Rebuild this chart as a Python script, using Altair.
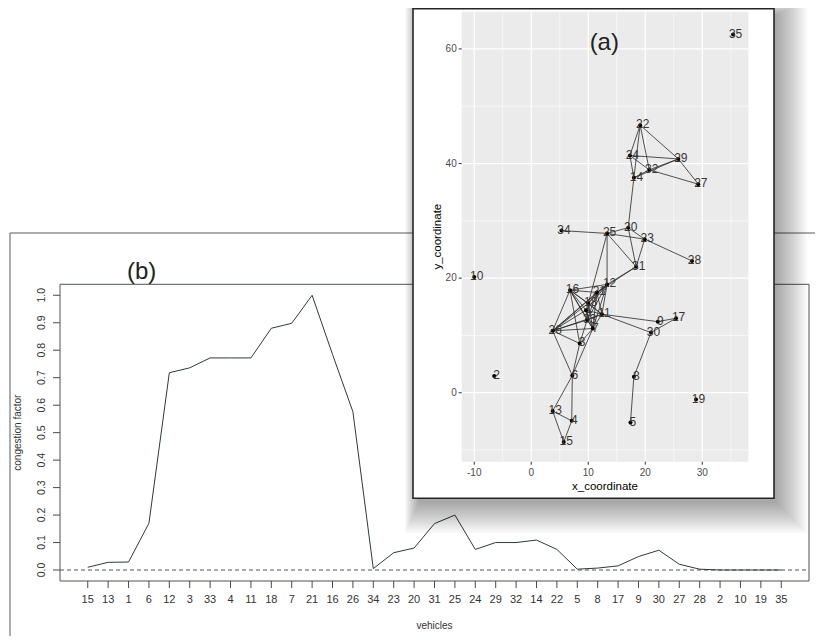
import altair as alt
import pandas as pd

# ---------------- data: panel (b) ----------------
vehicles = [15, 13, 1, 6, 12, 3, 33, 4, 11, 18, 7, 21, 16, 26, 34, 23, 20, 31, 25,
            24, 29, 32, 14, 22, 5, 8, 17, 9, 30, 27, 28, 2, 10, 19, 35]
congestion = [0.01, 0.028, 0.029, 0.17, 0.718, 0.736, 0.772, 0.772, 0.772, 0.88,
              0.898, 1.0, 0.785, 0.576, 0.005, 0.063, 0.08, 0.169, 0.2, 0.075,
              0.1, 0.1, 0.109, 0.075, 0.003, 0.007, 0.015, 0.049, 0.072, 0.021,
              0.003, 0.0, 0.0, 0.0, 0.0]
b_yticks = [0.0, 0.1, 0.2, 0.3, 0.4, 0.5, 0.6, 0.7, 0.8, 0.9, 1.0]

# ---------------- data: panel (a) ----------------
node_ids = [35, 22, 24, 29, 32, 14, 27, 20, 25, 34, 23, 28, 31, 12, 16, 21, 18, 11,
            33, 7, 1, 26, 3, 10, 2, 19, 9, 17, 30, 8, 5, 6, 13, 4, 15]
node_x = [35.4, 19.1, 17.3, 25.8, 20.7, 18.0, 29.3, 17.0, 13.3, 5.3, 19.9, 28.2, 18.4,
          13.3, 6.8, 11.5, 10.0, 12.4, 9.8, 10.8, 9.6, 3.75, 8.5, -10.0, -6.5, 28.9,
          22.2, 25.4, 21.0, 18.0, 17.4, 7.2, 3.75, 7.1, 5.7]
node_y = [62.5, 46.7, 41.4, 40.8, 38.9, 37.5, 36.4, 28.8, 27.8, 28.3, 26.8, 23.0, 22.0,
          18.9, 17.9, 17.5, 15.6, 13.7, 12.7, 11.2, 14.4, 10.8, 8.6, 20.2, 2.9, -1.2,
          12.4, 13.0, 10.5, 2.8, -5.2, 3.0, -3.2, -4.9, -8.6]
edge_from = [22, 22, 22, 22, 24, 24, 24, 32, 14, 14, 32, 29,
             14, 20, 20, 20, 25, 25, 23, 23, 34, 25, 25, 31, 31,
             16, 16, 16, 16, 16, 16, 16, 16, 16,
             26, 26, 26, 26, 26, 26, 26, 26,
             12, 12, 12, 12, 12, 12,
             21, 21, 21, 21,
             18, 18, 18, 18, 33, 33, 1, 1, 1,
             11, 11, 11, 9, 30, 30, 8,
             3, 3, 6, 6, 6, 6, 6, 13, 13, 4]
edge_to = [24, 14, 32, 29, 29, 14, 32, 29, 29, 32, 27, 27,
           20, 25, 31, 23, 23, 31, 31, 28, 25, 12, 18, 12, 21,
           12, 21, 26, 3, 7, 11, 18, 33, 1,
           12, 7, 11, 3, 18, 21, 33, 1,
           18, 33, 7, 11, 21, 1,
           18, 11, 33, 7,
           11, 33, 7, 1, 7, 11, 7, 11, 33,
           7, 9, 30, 17, 17, 8, 5,
           7, 33, 3, 7, 26, 13, 4, 4, 15, 15]
a_xmajor = [-10, 0, 10, 20, 30]
a_xminor = [-5, 5, 15, 25, 35]
a_ymajor = [0, 20, 40, 60]
a_yminor = [-10, 10, 30, 50]

# ---------------- layout ----------------
W, H = 807, 628
FONT = "Liberation Sans"
B_XDOM, B_XRNG = [-0.36, 36.36], [52, 801]
B_YDOM, B_YRNG = [-0.04, 1.04], [573, 276.3]
A_XDOM, A_XRNG = [-12.2, 38.07], [453.7, 740.3]
A_YDOM, A_YRNG = [-12.04, 66.5], [453.7, 3.7]


def sc(dom, rng):
    return alt.Scale(domain=dom, range=rng, nice=False, zero=False)


BX, BY = sc(B_XDOM, B_XRNG), sc(B_YDOM, B_YRNG)
AX, AY = sc(A_XDOM, A_XRNG), sc(A_YDOM, A_YRNG)


def qx(f, s):
    return alt.X(f, type="quantitative", scale=s, axis=None)


def qy(f, s):
    return alt.Y(f, type="quantitative", scale=s, axis=None)


one = pd.DataFrame({"x0": [0]})
layers = []

# ---------------- panel (b) ----------------
b_df = pd.DataFrame({"idx": list(range(1, len(vehicles) + 1)),
                     "veh": [str(v) for v in vehicles], "cf": congestion})
b_df["ybot"] = B_YDOM[0]
b_box = pd.DataFrame({"x0": [B_XDOM[0]], "x1": [B_XDOM[1]],
                      "y0": [B_YDOM[0]], "y1": [B_YDOM[1]], "zero": [0.0],
                      "xm": [18.0], "ym": [0.5]})
b_yt = pd.DataFrame({"v": b_yticks})
b_yt["xl"] = B_XDOM[0]

# outer frame of (b)
layers.append(alt.Chart(one).mark_rule(color="#5a5a5a", strokeWidth=1).encode(
    x=alt.value(2), x2=alt.value(W), y=alt.value(225), y2=alt.value(225)))
layers.append(alt.Chart(one).mark_rule(color="#5a5a5a", strokeWidth=1).encode(
    x=alt.value(2), x2=alt.value(2), y=alt.value(225), y2=alt.value(H)))
# plot box
layers.append(alt.Chart(b_box).mark_rect(fillOpacity=0, stroke="#4d564d", strokeWidth=1).encode(
    x=qx("x0", BX), x2="x1", y=qy("y0", BY), y2="y1"))
# dashed zero line
layers.append(alt.Chart(b_box).mark_rule(color="#555", strokeDash=[4, 3], strokeWidth=1).encode(
    x=qx("x0", BX), x2="x1", y=qy("zero", BY)))
# congestion line
layers.append(alt.Chart(b_df).mark_line(color="#2e3a3c", strokeWidth=1).encode(
    x=qx("idx", BX), y=qy("cf", BY)))
# x ticks + labels
layers.append(alt.Chart(b_df).mark_rule(color="#4a4a4a", y2Offset=7).encode(
    x=qx("idx", BX), y=qy("ybot", BY), y2="ybot"))
layers.append(alt.Chart(b_df).mark_text(font=FONT, fontSize=11, color="#333", yOffset=19,
                                        baseline="middle").encode(
    x=qx("idx", BX), y=qy("ybot", BY), text="veh:N"))
# y ticks + labels
layers.append(alt.Chart(b_yt).mark_rule(color="#4a4a4a", x2Offset=-7).encode(
    x=qx("xl", BX), x2="xl", y=qy("v", BY)))
layers.append(alt.Chart(b_yt).mark_text(font=FONT, fontSize=10.5, color="#333", angle=270,
                                        xOffset=-18, baseline="middle", align="center").encode(
    x=qx("xl", BX), y=qy("v", BY), text=alt.Text("v:Q", format=".1f")))
# axis titles
layers.append(alt.Chart(b_box).mark_text(font=FONT, fontSize=10, color="#333", angle=270,
                                         xOffset=-42, baseline="middle").encode(
    x=qx("x0", BX), y=qy("ym", BY), text=alt.value("congestion factor")))
layers.append(alt.Chart(b_box).mark_text(font=FONT, fontSize=10, color="#333", yOffset=45,
                                         baseline="middle").encode(
    x=qx("xm", BX), y=qy("y0", BY), text=alt.value("vehicles")))
layers.append(alt.Chart(one).mark_text(font=FONT, fontSize=24, color="#222", baseline="middle").encode(
    x=alt.value(133.7), y=alt.value(264), text=alt.value("(b)")))

# ---------------- panel (a) inset ----------------
BOX = (405, 0.75, 766, 490.3)
for i in range(16):
    s = 1 + 2 * i
    layers.append(alt.Chart(one).mark_rect(color="black", opacity=0.022).encode(
        x=alt.value(BOX[0] + 6 - s * 0.45), x2=alt.value(BOX[2] + 2 + s),
        y=alt.value(BOX[1] + 6 - s * 0.45), y2=alt.value(BOX[3] + 4 + s)))
layers.append(alt.Chart(one).mark_rect(fill="white", stroke="#262626", strokeWidth=1.6).encode(
    x=alt.value(BOX[0]), x2=alt.value(BOX[2]), y=alt.value(BOX[1]), y2=alt.value(BOX[3])))

a_box = pd.DataFrame({"x0": [A_XDOM[0]], "x1": [A_XDOM[1]], "y0": [A_YDOM[0]],
                      "y1": [A_YDOM[1]], "xm": [(A_XDOM[0] + A_XDOM[1]) / 2],
                      "ym": [(A_YDOM[0] + A_YDOM[1]) / 2]})
layers.append(alt.Chart(a_box).mark_rect(color="#EBEBEB").encode(
    x=qx("x0", AX), x2="x1", y=qy("y0", AY), y2="y1"))


def vgrid(vals, w):
    d = pd.DataFrame({"v": vals})
    d["y0"], d["y1"] = A_YDOM
    return alt.Chart(d).mark_rule(color="white", strokeWidth=w).encode(
        x=qx("v", AX), y=qy("y0", AY), y2="y1")


def hgrid(vals, w):
    d = pd.DataFrame({"v": vals})
    d["x0"], d["x1"] = A_XDOM
    return alt.Chart(d).mark_rule(color="white", strokeWidth=w).encode(
        y=qy("v", AY), x=qx("x0", AX), x2="x1")


layers += [vgrid(a_xminor, 0.6), hgrid(a_yminor, 0.6), vgrid(a_xmajor, 1.2), hgrid(a_ymajor, 1.2)]

pos = {n: (x, y) for n, x, y in zip(node_ids, node_x, node_y)}
e_df = pd.DataFrame({"x": [pos[a][0] for a in edge_from], "y": [pos[a][1] for a in edge_from],
                     "x2": [pos[b][0] for b in edge_to], "y2": [pos[b][1] for b in edge_to]})
layers.append(alt.Chart(e_df).mark_rule(color="#2a2a2a", strokeWidth=0.9, opacity=0.9).encode(
    x=qx("x", AX), y=qy("y", AY), x2="x2", y2="y2"))
n_df = pd.DataFrame({"id": [str(n) for n in node_ids], "x": node_x, "y": node_y})
layers.append(alt.Chart(n_df).mark_circle(color="black", size=16, opacity=1).encode(
    x=qx("x", AX), y=qy("y", AY)))
layers.append(alt.Chart(n_df).mark_text(font=FONT, fontSize=12, color="#3a3530", dx=2.5, dy=-1,
                                        baseline="middle").encode(
    x=qx("x", AX), y=qy("y", AY), text="id:N"))

# axes of (a)
ax_t = pd.DataFrame({"v": a_xmajor})
ax_t["yb"] = A_YDOM[0]
ay_t = pd.DataFrame({"v": a_ymajor})
ay_t["xl"] = A_XDOM[0]
layers.append(alt.Chart(ax_t).mark_rule(color="#333", y2Offset=3).encode(
    x=qx("v", AX), y=qy("yb", AY), y2="yb"))
layers.append(alt.Chart(ax_t).mark_text(font=FONT, fontSize=10, color="#4d4d4d", yOffset=11.5,
                                        baseline="middle").encode(
    x=qx("v", AX), y=qy("yb", AY), text="v:N"))
layers.append(alt.Chart(ay_t).mark_rule(color="#333", x2Offset=-3).encode(
    x=qx("xl", AX), x2="xl", y=qy("v", AY)))
layers.append(alt.Chart(ay_t).mark_text(font=FONT, fontSize=10, color="#4d4d4d", xOffset=-5,
                                        align="right", baseline="middle").encode(
    x=qx("xl", AX), y=qy("v", AY), text="v:N"))
layers.append(alt.Chart(a_box).mark_text(font=FONT, fontSize=11.5, color="black", yOffset=25,
                                         baseline="middle").encode(
    x=qx("xm", AX), y=qy("y0", AY), text=alt.value("x_coordinate")))
layers.append(alt.Chart(a_box).mark_text(font=FONT, fontSize=11.5, color="black", angle=270,
                                         xOffset=-24, baseline="middle").encode(
    x=qx("x0", AX), y=qy("ym", AY), text=alt.value("y_coordinate")))
layers.append(alt.Chart(one).mark_text(font=FONT, fontSize=24, color="#222", baseline="middle").encode(
    x=alt.value(596.3), y=alt.value(35.3), text=alt.value("(a)")))

chart = alt.layer(*layers).resolve_scale(x="independent", y="independent").properties(
    width=W, height=H, autosize=alt.AutoSizeParams(type="none"), padding=0
).configure_view(stroke=None)

chart.save("out.html", embed_options={"renderer": "svg", "actions": False})
